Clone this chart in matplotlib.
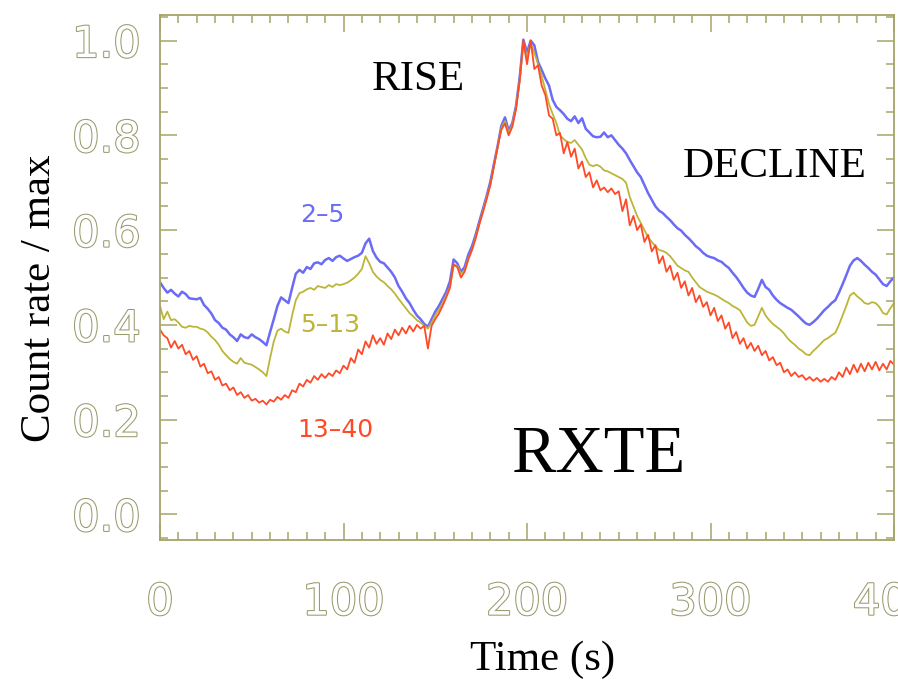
import numpy as np
import matplotlib.pyplot as plt
import matplotlib.patheffects as pe
from matplotlib.ticker import MultipleLocator

# light curves, normalised to their maxima, sampled every 2 s
time_s = np.arange(0, 401, 2)

band_2_5 = [
    0.490, 0.478, 0.468, 0.474, 0.466, 0.460, 0.470, 0.465, 0.456, 0.455,
    0.454, 0.457, 0.442, 0.434, 0.424, 0.410, 0.404, 0.394, 0.390, 0.380,
    0.374, 0.366, 0.380, 0.374, 0.372, 0.380, 0.374, 0.370, 0.364, 0.357,
    0.385, 0.412, 0.440, 0.458, 0.452, 0.446, 0.478, 0.508, 0.516, 0.510,
    0.522, 0.518, 0.530, 0.532, 0.528, 0.537, 0.541, 0.535, 0.543, 0.546,
    0.540, 0.535, 0.539, 0.543, 0.546, 0.552, 0.572, 0.582, 0.556, 0.542,
    0.533, 0.530, 0.521, 0.512, 0.500, 0.482, 0.470, 0.456, 0.446, 0.432,
    0.420, 0.412, 0.402, 0.396, 0.412, 0.428, 0.440, 0.455, 0.470, 0.492,
    0.538, 0.530, 0.512, 0.522, 0.548, 0.566, 0.590, 0.618, 0.645, 0.672,
    0.702, 0.740, 0.778, 0.820, 0.838, 0.810, 0.826, 0.862, 0.922, 1.002,
    0.975, 1.000, 0.990, 0.955, 0.938, 0.920, 0.905, 0.875, 0.860, 0.853,
    0.845, 0.835, 0.830, 0.840, 0.826, 0.836, 0.814, 0.806, 0.798, 0.796,
    0.797, 0.806, 0.796, 0.800, 0.790, 0.780, 0.772, 0.762, 0.748, 0.735,
    0.722, 0.712, 0.695, 0.678, 0.664, 0.650, 0.641, 0.636, 0.628, 0.621,
    0.612, 0.604, 0.599, 0.590, 0.583, 0.575, 0.566, 0.560, 0.552, 0.546,
    0.543, 0.541, 0.536, 0.533, 0.526, 0.520, 0.510, 0.501, 0.490, 0.478,
    0.468, 0.462, 0.459, 0.476, 0.495, 0.480, 0.474, 0.462, 0.453, 0.446,
    0.441, 0.436, 0.432, 0.425, 0.418, 0.410, 0.403, 0.400, 0.406, 0.413,
    0.422, 0.431, 0.438, 0.446, 0.452, 0.468, 0.486, 0.505, 0.525, 0.536,
    0.541, 0.535, 0.527, 0.520, 0.512, 0.506, 0.496, 0.486, 0.482, 0.492,
    0.500,
]

band_5_13 = [
    0.440, 0.412, 0.428, 0.410, 0.412, 0.405, 0.396, 0.394, 0.398, 0.396,
    0.396, 0.392, 0.390, 0.384, 0.375, 0.368, 0.358, 0.345, 0.336, 0.328,
    0.322, 0.318, 0.330, 0.320, 0.318, 0.316, 0.311, 0.306, 0.300, 0.292,
    0.330, 0.365, 0.388, 0.392, 0.386, 0.383, 0.420, 0.452, 0.467, 0.470,
    0.475, 0.478, 0.474, 0.482, 0.480, 0.478, 0.484, 0.480, 0.486, 0.484,
    0.486, 0.489, 0.494, 0.500, 0.508, 0.518, 0.545, 0.530, 0.512, 0.502,
    0.495, 0.490, 0.482, 0.475, 0.466, 0.455, 0.445, 0.435, 0.425, 0.418,
    0.410, 0.405, 0.398, 0.392, 0.405, 0.420, 0.432, 0.446, 0.462, 0.480,
    0.525, 0.525, 0.508, 0.515, 0.540, 0.558, 0.585, 0.612, 0.640, 0.668,
    0.695, 0.735, 0.775, 0.815, 0.830, 0.805, 0.822, 0.858, 0.915, 0.995,
    0.965, 0.995, 0.974, 0.950, 0.925, 0.896, 0.866, 0.845, 0.826, 0.800,
    0.792, 0.786, 0.784, 0.790, 0.780, 0.770, 0.752, 0.738, 0.735, 0.738,
    0.734, 0.726, 0.724, 0.720, 0.716, 0.712, 0.708, 0.700, 0.670, 0.650,
    0.630, 0.615, 0.600, 0.585, 0.575, 0.566, 0.558, 0.556, 0.552, 0.545,
    0.535, 0.525, 0.520, 0.515, 0.512, 0.500, 0.490, 0.480, 0.475, 0.470,
    0.467, 0.464, 0.460, 0.455, 0.450, 0.446, 0.440, 0.436, 0.431, 0.418,
    0.405, 0.398, 0.400, 0.418, 0.436, 0.420, 0.410, 0.402, 0.396, 0.390,
    0.382, 0.372, 0.364, 0.358, 0.350, 0.345, 0.338, 0.336, 0.345, 0.352,
    0.360, 0.368, 0.372, 0.378, 0.383, 0.400, 0.420, 0.440, 0.462, 0.468,
    0.460, 0.454, 0.446, 0.444, 0.448, 0.446, 0.438, 0.425, 0.422, 0.435,
    0.446,
]

band_13_40 = [
    0.390, 0.378, 0.372, 0.352, 0.366, 0.350, 0.358, 0.338, 0.345, 0.326,
    0.334, 0.312, 0.318, 0.298, 0.302, 0.284, 0.290, 0.272, 0.276, 0.262,
    0.268, 0.252, 0.258, 0.246, 0.252, 0.240, 0.244, 0.236, 0.240, 0.232,
    0.242, 0.238, 0.248, 0.242, 0.252, 0.246, 0.262, 0.258, 0.276, 0.270,
    0.284, 0.278, 0.292, 0.284, 0.296, 0.288, 0.298, 0.292, 0.304, 0.298,
    0.314, 0.306, 0.330, 0.320, 0.348, 0.338, 0.365, 0.352, 0.378, 0.360,
    0.372, 0.358, 0.382, 0.370, 0.390, 0.378, 0.394, 0.382, 0.398, 0.386,
    0.400, 0.392, 0.398, 0.350, 0.398, 0.412, 0.424, 0.440, 0.458, 0.478,
    0.528, 0.522, 0.500, 0.512, 0.538, 0.558, 0.582, 0.612, 0.638, 0.665,
    0.695, 0.735, 0.775, 0.812, 0.825, 0.800, 0.818, 0.855, 0.915, 1.000,
    0.950, 1.000, 0.940, 0.948, 0.905, 0.885, 0.842, 0.835, 0.800, 0.805,
    0.762, 0.786, 0.755, 0.772, 0.730, 0.745, 0.712, 0.722, 0.690, 0.705,
    0.684, 0.690, 0.680, 0.688, 0.676, 0.682, 0.640, 0.665, 0.610, 0.630,
    0.600, 0.612, 0.575, 0.590, 0.555, 0.568, 0.530, 0.545, 0.512, 0.525,
    0.495, 0.510, 0.478, 0.492, 0.462, 0.478, 0.448, 0.462, 0.438, 0.448,
    0.420, 0.436, 0.408, 0.420, 0.392, 0.405, 0.372, 0.385, 0.360, 0.372,
    0.350, 0.362, 0.345, 0.356, 0.336, 0.345, 0.325, 0.332, 0.315, 0.320,
    0.300, 0.306, 0.292, 0.300, 0.290, 0.294, 0.284, 0.290, 0.282, 0.288,
    0.280, 0.286, 0.280, 0.290, 0.284, 0.300, 0.290, 0.310, 0.296, 0.316,
    0.300, 0.318, 0.302, 0.320, 0.306, 0.322, 0.304, 0.318, 0.306, 0.324,
    0.316,
]

band_names = ["2\u20135", "5\u201313", "13\u201340"]
band_colors = ["#6b6bf5", "#bdb53a", "#ff4a28"]

W, H = 898, 685
fig = plt.figure(figsize=(W / 100, H / 100), dpi=100)
ax = fig.add_axes([160 / W, 1 - 540 / H, 734 / W, 525 / H])

ax.plot(time_s, band_2_5, color=band_colors[0], lw=1.8)
ax.plot(time_s, band_5_13, color=band_colors[1], lw=1.3)
ax.plot(time_s, band_13_40, color=band_colors[2], lw=1.3)

ax.set_xlim(0, 400)
ax.set_ylim(-0.054, 1.054)

axis_col = "#a4a46a"
for s in ax.spines.values():
    s.set_color(axis_col)
    s.set_linewidth(1.3)

ax.xaxis.set_major_locator(MultipleLocator(100))
ax.xaxis.set_minor_locator(MultipleLocator(10))
ax.yaxis.set_major_locator(MultipleLocator(0.2))
ax.yaxis.set_minor_locator(MultipleLocator(0.05))
ax.tick_params(which="both", direction="in", top=True, right=True, color=axis_col, width=1.1)
ax.tick_params(which="major", length=12)
ax.tick_params(which="minor", length=5.5)
ax.tick_params(axis="x", which="major", pad=30, labelsize=31)
ax.tick_params(axis="y", which="major", pad=14, labelsize=31)

# hollow, outlined tick numbers
for lab in ax.get_xticklabels() + ax.get_yticklabels():
    lab.set_color("white")
    lab.set_path_effects([pe.withStroke(linewidth=1.5, foreground="#9a9a6e")])

serif = ["Liberation Serif", "DejaVu Serif"]
fig.text(543 / W, 1 - 660 / H, "Time (s)", family=serif, fontsize=31,
         ha="center", va="center")
fig.text(40 / W, 1 - 298 / H, "Count rate / max", family=serif, fontsize=31,
         rotation=90, ha="center", va="center")

ax.text(140.6, 0.917, "RISE", family=serif, fontsize=31, ha="center", va="center")
ax.text(335, 0.733, "DECLINE", family=serif, fontsize=31, ha="center", va="center")
ax.text(238.7, 0.125, "RXTE", family=serif, fontsize=48, ha="center", va="center")

label_pos = [(88.3, 0.632), (92.6, 0.40), (95.4, 0.178)]
for name, col, (tx, ty) in zip(band_names, band_colors, label_pos):
    ax.text(tx, ty, name, color=col, fontsize=18, ha="center", va="center")

fig.savefig("out.png", dpi=100)
